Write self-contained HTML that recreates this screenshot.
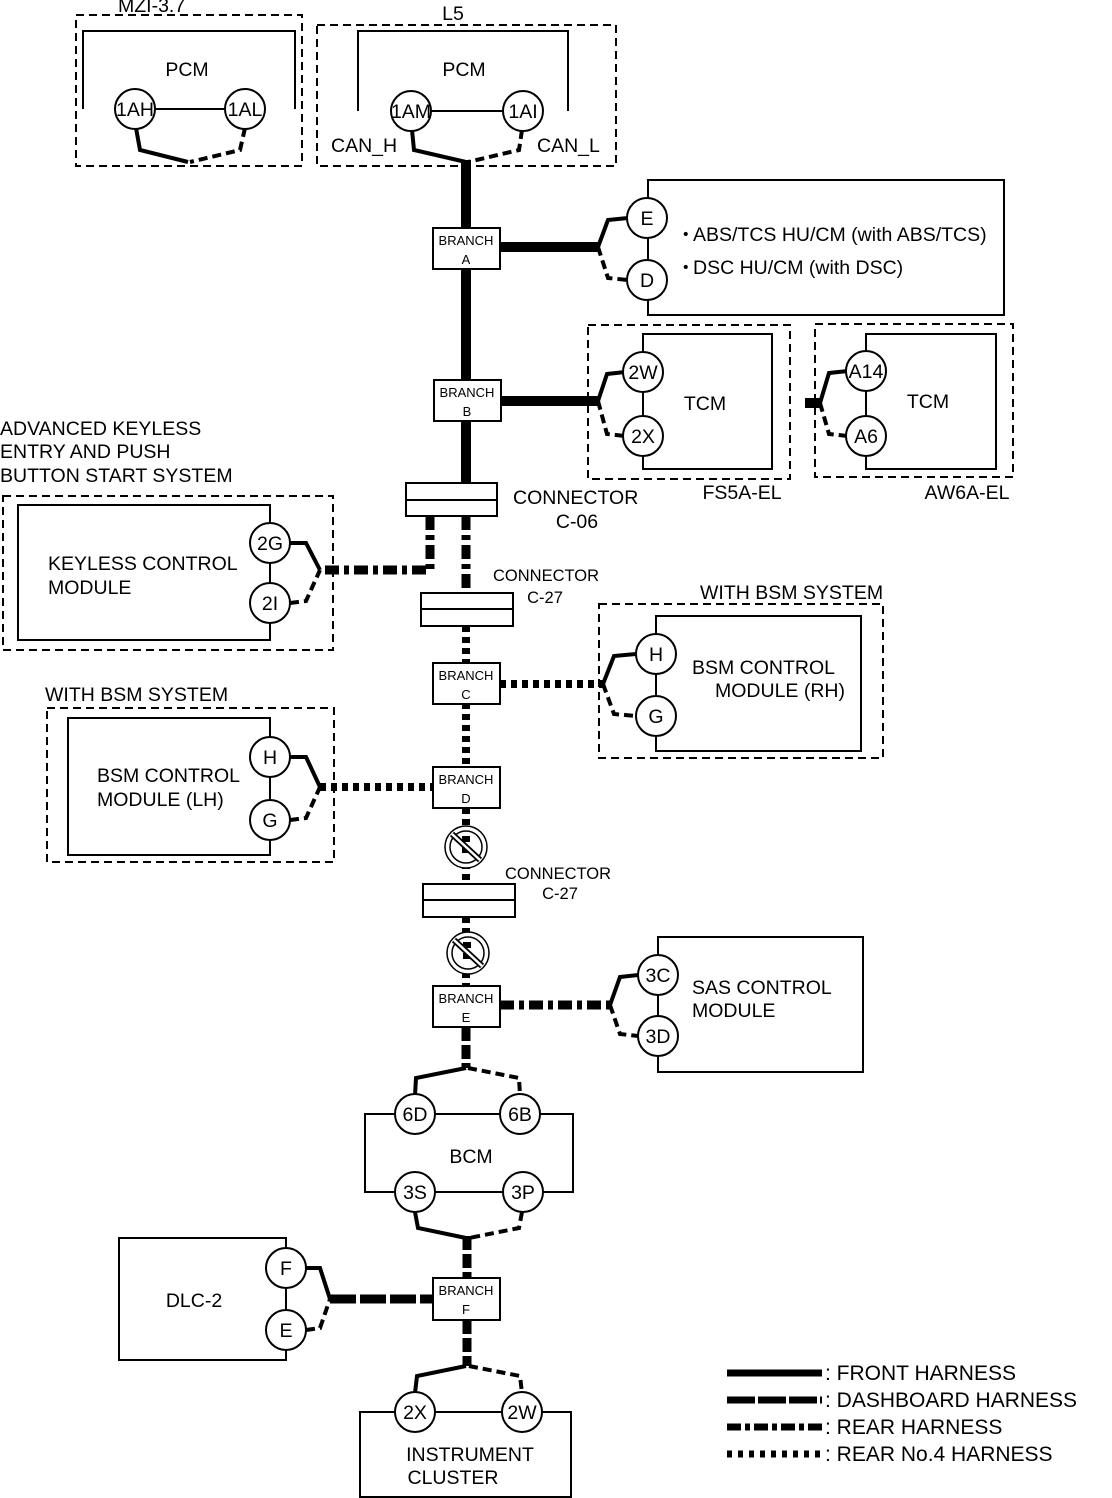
<!DOCTYPE html>
<html><head><meta charset="utf-8"><style>
html,body{margin:0;padding:0;background:#fff}
svg{display:block}
text{font-family:"Liberation Sans",sans-serif;font-size:19.5px;fill:#000}
.s{font-size:13px}
.c{text-anchor:middle}
.lg{font-size:21px}
</style></head><body>
<svg width="1112" height="1498" viewBox="0 0 1112 1498" xmlns="http://www.w3.org/2000/svg">
<defs>
<style>
.box{fill:#fff;stroke:#000;stroke-width:2}
.db{fill:none;stroke:#000;stroke-width:2;stroke-dasharray:8 5}
.cir{fill:#fff;stroke:#000;stroke-width:2}
.fr{fill:none;stroke:#000;stroke-width:10}
.fr4{fill:none;stroke:#000;stroke-width:4}
.dsh4{fill:none;stroke:#000;stroke-width:4;stroke-dasharray:9 5}
.dash{fill:none;stroke:#000;stroke-width:9;stroke-dasharray:26 4}
.rear{fill:none;stroke:#000;stroke-width:9;stroke-dasharray:14 5 5 5}
.r4{fill:none;stroke:#000;stroke-width:8;stroke-dasharray:6 5}
</style>
</defs>

<!-- MZI -->
<text x="118" y="12">MZI-3.7</text>
<rect class="db" x="76" y="15" width="226" height="151"/>
<path d="M83 109 V31 H295 V109" class="box" fill="none"/>
<line x1="155" y1="109" x2="225" y2="109" stroke="#000" stroke-width="2"/>
<text x="187" y="76" class="c">PCM</text>
<path class="fr4" d="M136 128 L140 150 L188 162"/>
<path class="dsh4" d="M245 128 L240 150 L190 162"/>
<circle class="cir" cx="135" cy="109" r="20"/><text x="135" y="116" class="c">1AH</text>
<circle class="cir" cx="245" cy="109" r="20"/><text x="245" y="116" class="c">1AL</text>

<!-- L5 -->
<text x="453" y="20" class="c">L5</text>
<rect class="db" x="317" y="25" width="299" height="141"/>
<path d="M358 111 V31 H568 V111" class="box" fill="none"/>
<line x1="431" y1="111" x2="503" y2="111" stroke="#000" stroke-width="2"/>
<text x="464" y="76" class="c">PCM</text>
<path class="fr4" d="M412 130 L414 150 L466 162"/>
<path class="dsh4" d="M522 130 L519 150 L468 162"/>
<circle class="cir" cx="411" cy="111" r="20"/><text x="411" y="118" class="c">1AM</text>
<circle class="cir" cx="523" cy="111" r="20"/><text x="523" y="118" class="c">1AI</text>
<text x="331" y="152">CAN_H</text>
<text x="537" y="152">CAN_L</text>

<line class="fr" x1="466" y1="160" x2="466" y2="484"/>

<!-- ABS -->
<rect class="box" x="648" y="180" width="356" height="135"/>
<line class="fr" x1="500" y1="247" x2="600" y2="247"/>
<path class="fr4" d="M598 247 L608 220 L628 218"/>
<path class="dsh4" d="M598 247 L608 278 L628 280"/>
<circle class="cir" cx="647" cy="218" r="20"/><text x="647" y="225" class="c">E</text>
<circle class="cir" cx="647" cy="280" r="20"/><text x="647" y="287" class="c">D</text>
<text x="676" y="241">・</text><text x="693" y="241">ABS/TCS HU/CM (with ABS/TCS)</text>
<text x="676" y="274">・</text><text x="693" y="274">DSC HU/CM (with DSC)</text>

<rect class="box" x="433" y="228" width="67" height="41"/>
<text x="466" y="245" class="c s">BRANCH</text><text x="466" y="264" class="c s">A</text>

<!-- FS5A -->
<rect class="db" x="588" y="325" width="202" height="154"/>
<path class="box" fill="none" d="M643 352 V334 H772 V469 H643 V456"/>
<line x1="643" y1="392" x2="643" y2="416" stroke="#000" stroke-width="2"/>
<line class="fr" x1="500" y1="401" x2="600" y2="401"/>
<path class="fr4" d="M598 401 L607 374 L625 372"/>
<path class="dsh4" d="M598 401 L607 434 L625 436"/>
<circle class="cir" cx="643" cy="372" r="20"/><text x="643" y="379" class="c">2W</text>
<circle class="cir" cx="643" cy="436" r="20"/><text x="643" y="443" class="c">2X</text>
<text x="705" y="410" class="c">TCM</text>
<text x="742" y="499" class="c">FS5A-EL</text>

<!-- AW6A -->
<rect class="db" x="815" y="324" width="198" height="153"/>
<path class="box" fill="none" d="M866 351 V334 H996 V469 H866 V456"/>
<line x1="866" y1="391" x2="866" y2="416" stroke="#000" stroke-width="2"/>
<line class="fr" x1="805" y1="403" x2="822" y2="403"/>
<path class="fr4" d="M820 403 L829 373 L848 371"/>
<path class="dsh4" d="M820 403 L829 434 L848 436"/>
<circle class="cir" cx="866" cy="371" r="20"/><text x="866" y="378" class="c">A14</text>
<circle class="cir" cx="866" cy="436" r="20"/><text x="866" y="443" class="c">A6</text>
<text x="928" y="408" class="c">TCM</text>
<text x="967" y="499" class="c">AW6A-EL</text>

<rect class="box" x="434" y="380" width="67" height="41"/>
<text x="467" y="397" class="c s">BRANCH</text><text x="467" y="416" class="c s">B</text>

<!-- Keyless -->
<text x="0" y="435">ADVANCED KEYLESS</text>
<text x="0" y="458">ENTRY AND PUSH</text>
<text x="0" y="482">BUTTON START SYSTEM</text>
<rect class="db" x="3" y="496" width="330" height="154"/>
<path class="box" fill="none" d="M270 523 V505 H18 V640 H270 V623"/>
<line x1="270" y1="563" x2="270" y2="583" stroke="#000" stroke-width="2"/>
<circle class="cir" cx="270" cy="543" r="20"/><text x="270" y="550" class="c">2G</text>
<circle class="cir" cx="270" cy="603" r="20"/><text x="270" y="610" class="c">2I</text>
<text x="48" y="570">KEYLESS CONTROL</text>
<text x="48" y="594">MODULE</text>
<path class="fr4" d="M290 543 L306 543 L320 570"/>
<path class="dsh4" d="M290 603 L306 601 L320 570"/>
<path class="rear" d="M430 516 V570 H320"/>
<line class="rear" x1="466" y1="516" x2="466" y2="593"/>

<rect class="box" x="406" y="483" width="91" height="33"/>
<line x1="406" y1="500" x2="497" y2="500" stroke="#000" stroke-width="2"/>
<text x="513" y="504">CONNECTOR</text>
<text x="577" y="528" class="c">C-06</text>

<text x="493" y="581" style="font-size:16.5px">CONNECTOR</text>
<text x="545" y="603" class="c" style="font-size:16.5px">C-27</text>
<rect class="box" x="421" y="593" width="92" height="33"/>
<line x1="421" y1="609" x2="513" y2="609" stroke="#000" stroke-width="2"/>

<line class="r4" x1="466" y1="626" x2="466" y2="767"/>

<!-- BSM RH -->
<text x="700" y="599">WITH BSM SYSTEM</text>
<rect class="db" x="599" y="604" width="284" height="154"/>
<path class="box" fill="none" d="M656 634 V616 H861 V751 H656 V736"/>
<line x1="656" y1="674" x2="656" y2="696" stroke="#000" stroke-width="2"/>
<line class="r4" x1="500" y1="684" x2="604" y2="684"/>
<path class="fr4" d="M603 684 L614 656 L636 654"/>
<path class="dsh4" d="M603 684 L614 714 L636 716"/>
<circle class="cir" cx="656" cy="654" r="20"/><text x="656" y="661" class="c">H</text>
<circle class="cir" cx="656" cy="716" r="20"/><text x="656" y="723" class="c">G</text>
<text x="692" y="674">BSM CONTROL</text>
<text x="715" y="697">MODULE (RH)</text>

<rect class="box" x="433" y="663" width="67" height="41"/>
<text x="466" y="680" class="c s">BRANCH</text><text x="466" y="699" class="c s">C</text>

<!-- BSM LH -->
<text x="45" y="701">WITH BSM SYSTEM</text>
<rect class="db" x="47" y="708" width="287" height="154"/>
<path class="box" fill="none" d="M270 737 V718 H68 V855 H270 V840"/>
<line x1="270" y1="777" x2="270" y2="800" stroke="#000" stroke-width="2"/>
<circle class="cir" cx="270" cy="757" r="20"/><text x="270" y="764" class="c">H</text>
<circle class="cir" cx="270" cy="820" r="20"/><text x="270" y="827" class="c">G</text>
<text x="97" y="782">BSM CONTROL</text>
<text x="97" y="806">MODULE (LH)</text>
<path class="fr4" d="M290 757 L306 757 L320 787"/>
<path class="dsh4" d="M290 820 L306 818 L320 787"/>
<line class="r4" x1="320" y1="787" x2="433" y2="787"/>

<rect class="box" x="433" y="767" width="67" height="41"/>
<text x="466" y="784" class="c s">BRANCH</text><text x="466" y="803" class="c s">D</text>

<line class="r4" x1="466" y1="808" x2="466" y2="884"/>
<g fill="none" stroke="#000" stroke-width="1.5">
<circle cx="466" cy="847" r="21" fill="#fff"/><circle cx="466" cy="847" r="16"/>
</g>
<line x1="466" y1="836" x2="466" y2="858" stroke="#000" stroke-width="8" stroke-dasharray="6 5"/>
<line x1="452" y1="834" x2="480" y2="860" stroke="#000" stroke-width="6"/>
<line x1="452" y1="834" x2="480" y2="860" stroke="#fff" stroke-width="2.5"/>

<text x="505" y="879" style="font-size:16.5px">CONNECTOR</text>
<text x="560" y="899" class="c" style="font-size:16.5px">C-27</text>
<rect class="box" x="423" y="884" width="92" height="33"/>
<line x1="423" y1="900" x2="515" y2="900" stroke="#000" stroke-width="2"/>

<line class="r4" x1="466" y1="917" x2="466" y2="986"/>
<g fill="none" stroke="#000" stroke-width="1.5">
<circle cx="468" cy="953" r="21" fill="#fff"/><circle cx="468" cy="953" r="16"/>
</g>
<line x1="467" y1="942" x2="467" y2="964" stroke="#000" stroke-width="8" stroke-dasharray="6 5"/>
<line x1="454" y1="940" x2="482" y2="966" stroke="#000" stroke-width="6"/>
<line x1="454" y1="940" x2="482" y2="966" stroke="#fff" stroke-width="2.5"/>

<!-- SAS -->
<rect class="box" x="658" y="937" width="205" height="135"/>
<line class="rear" x1="500" y1="1005" x2="612" y2="1005"/>
<path class="fr4" d="M610 1005 L620 977 L638 975"/>
<path class="dsh4" d="M610 1005 L620 1034 L638 1036"/>
<circle class="cir" cx="658" cy="975" r="20"/><text x="658" y="982" class="c">3C</text>
<circle class="cir" cx="658" cy="1036" r="20"/><text x="658" y="1043" class="c">3D</text>
<text x="692" y="994">SAS CONTROL</text>
<text x="692" y="1017">MODULE</text>

<rect class="box" x="433" y="986" width="67" height="41"/>
<text x="466" y="1003" class="c s">BRANCH</text><text x="466" y="1022" class="c s">E</text>

<line class="dash" x1="466" y1="1027" x2="466" y2="1068" style="stroke-dasharray:14 4"/>
<path class="fr4" d="M466 1068 L416 1078 L415 1095"/>
<path class="dsh4" d="M468 1068 L519 1078 L520 1095"/>

<!-- BCM -->
<rect class="box" x="365" y="1114" width="208" height="78"/>
<circle class="cir" cx="415" cy="1114" r="20"/><text x="415" y="1121" class="c">6D</text>
<circle class="cir" cx="520" cy="1114" r="20"/><text x="520" y="1121" class="c">6B</text>
<circle class="cir" cx="415" cy="1192" r="20"/><text x="415" y="1199" class="c">3S</text>
<circle class="cir" cx="523" cy="1192" r="20"/><text x="523" y="1199" class="c">3P</text>
<text x="471" y="1163" class="c">BCM</text>
<path class="fr4" d="M415 1212 L418 1228 L466 1238"/>
<path class="dsh4" d="M522 1212 L519 1228 L469 1238"/>
<line class="dash" x1="467" y1="1236" x2="467" y2="1278" style="stroke-dasharray:14 4"/>

<!-- DLC-2 -->
<rect class="box" x="119" y="1238" width="167" height="122"/>
<circle class="cir" cx="286" cy="1268" r="20"/><text x="286" y="1275" class="c">F</text>
<circle class="cir" cx="286" cy="1330" r="20"/><text x="286" y="1337" class="c">E</text>
<text x="194" y="1307" class="c">DLC-2</text>
<path class="fr4" d="M306 1268 L320 1268 L330 1299"/>
<path class="dsh4" d="M306 1330 L320 1328 L330 1299"/>
<line class="dash" x1="330" y1="1299" x2="433" y2="1299"/>

<rect class="box" x="433" y="1278" width="67" height="42"/>
<text x="466" y="1295" class="c s">BRANCH</text><text x="466" y="1314" class="c s">F</text>

<line class="dash" x1="467" y1="1320" x2="467" y2="1366" style="stroke-dasharray:14 4"/>
<path class="fr4" d="M466 1366 L417 1376 L415 1393"/>
<path class="dsh4" d="M469 1366 L520 1376 L522 1393"/>

<rect class="box" x="360" y="1412" width="211" height="85"/>
<circle class="cir" cx="415" cy="1412" r="20"/><text x="415" y="1419" class="c">2X</text>
<circle class="cir" cx="522" cy="1412" r="20"/><text x="522" y="1419" class="c">2W</text>
<text x="470" y="1461" class="c">INSTRUMENT</text>
<text x="453" y="1484" class="c">CLUSTER</text>

<!-- legend -->
<line x1="727" y1="1373" x2="822" y2="1373" stroke="#000" stroke-width="7"/>
<line x1="727" y1="1400" x2="822" y2="1400" stroke="#000" stroke-width="7" stroke-dasharray="28 3"/>
<line x1="727" y1="1427" x2="822" y2="1427" stroke="#000" stroke-width="7" stroke-dasharray="14 4 5 4"/>
<line x1="727" y1="1454" x2="822" y2="1454" stroke="#000" stroke-width="7" stroke-dasharray="5 6"/>
<text x="825" y="1380" class="lg">: FRONT HARNESS</text>
<text x="825" y="1407" class="lg">: DASHBOARD HARNESS</text>
<text x="825" y="1434" class="lg">: REAR HARNESS</text>
<text x="825" y="1461" class="lg">: REAR No.4 HARNESS</text>
</svg>
</body></html>
